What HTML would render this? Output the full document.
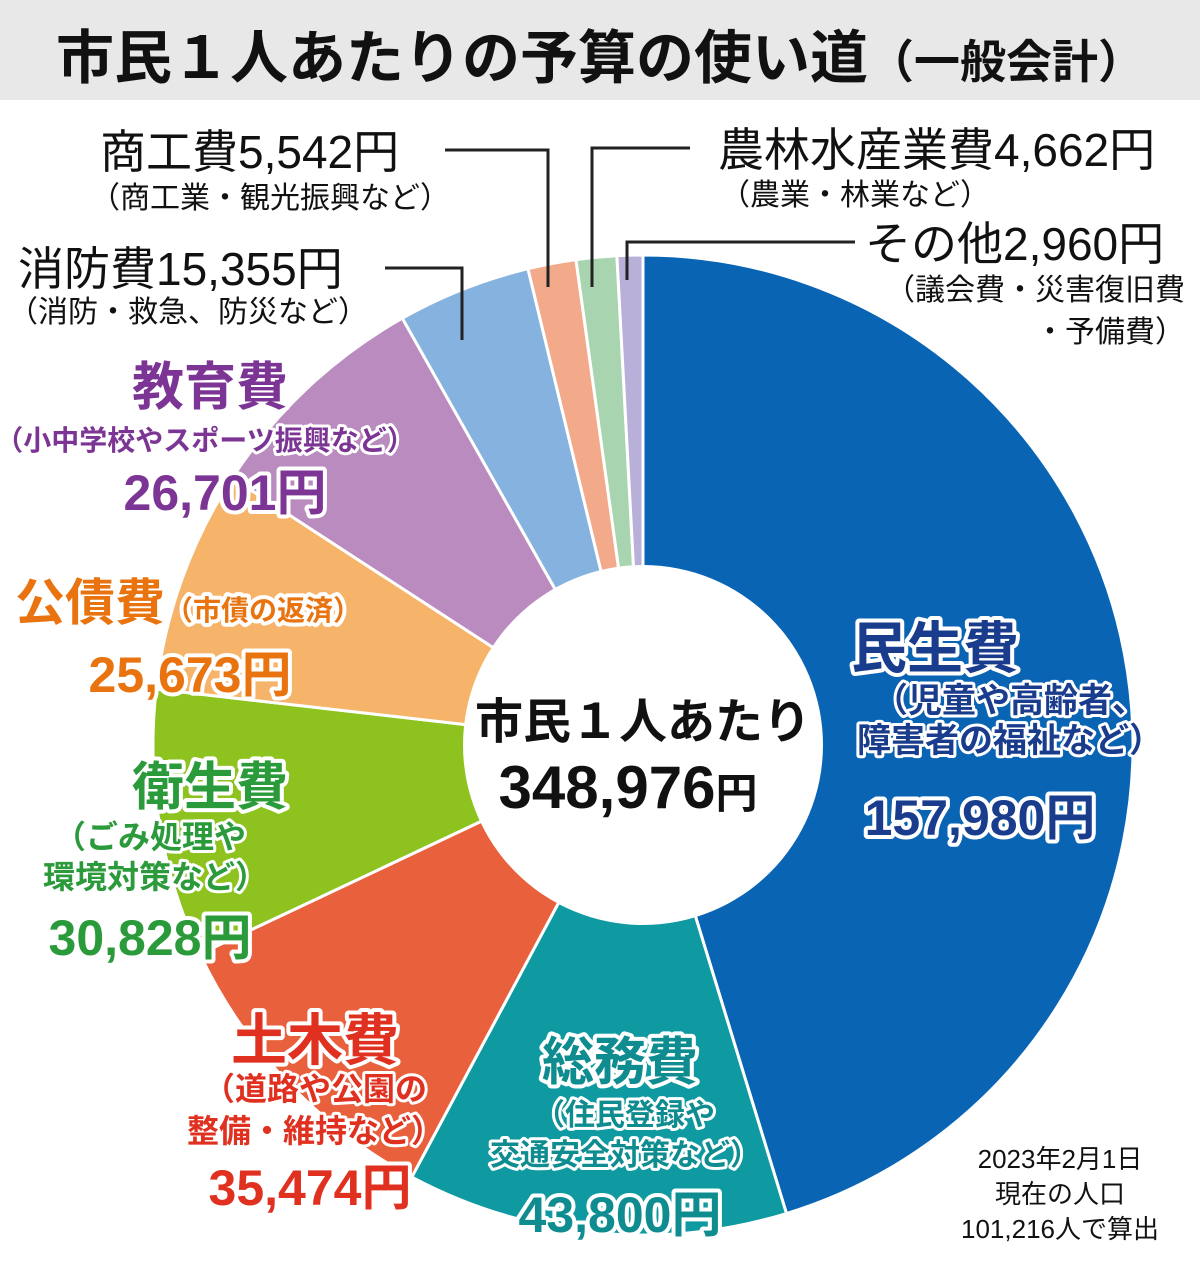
<!DOCTYPE html>
<html><head><meta charset="utf-8">
<style>
html,body{margin:0;padding:0;background:#fff;}
svg text{font-family:"Liberation Sans","Noto Sans CJK JP",sans-serif;}
.o{paint-order:stroke;stroke:#fff;stroke-linejoin:round;}
</style></head>
<body>
<svg id="s" width="1200" height="1264" viewBox="0 0 1200 1264" xmlns="http://www.w3.org/2000/svg">
<rect x="0" y="0" width="1200" height="100" fill="#e8e8e8"/>
<text x="600" y="78" font-size="58" font-weight="bold" text-anchor="middle" fill="#111">市民１人あたりの予算の使い道<tspan font-size="46">（一般会計）</tspan></text>
<g id="pie"></g>
<circle cx="643" cy="745" r="180" fill="#fff"/>
<text x="643" y="738" font-size="48" font-weight="bold" text-anchor="middle" fill="#111">市民１人あたり</text>
<text x="628" y="808" font-size="60" font-weight="bold" text-anchor="middle" fill="#111">348,976<tspan font-size="42">円</tspan></text>

<g fill="none" stroke="#222" stroke-width="3">
<polyline points="445,150 548,150 548,287"/>
<polyline points="690,148 592,148 592,287"/>
<polyline points="855,242 627,242 627,280"/>
<polyline points="385,268 462,268 462,340"/>
</g>
<g fill="#111">
<text x="100" y="168" font-size="46">商工費5,542円</text>
<text x="90" y="208" font-size="30">（商工業・観光振興など）</text>
<text x="718" y="166" font-size="46">農林水産業費4,662円</text>
<text x="720" y="205" font-size="30">（農業・林業など）</text>
<text x="865" y="260" font-size="46">その他2,960円</text>
<text x="1185" y="300" font-size="30" text-anchor="end">（議会費・災害復旧費</text>
<text x="1185" y="342" font-size="30" text-anchor="end">・予備費）</text>
<text x="18" y="285" font-size="46">消防費15,355円</text>
<text x="8" y="322" font-size="30">（消防・救急、防災など）</text>
</g>

<g font-weight="bold">
<text class="o" stroke-width="8" x="210" y="405" font-size="52" fill="#7c3594" text-anchor="middle">教育費</text>
<text class="o" stroke-width="6" x="205" y="450" font-size="28" fill="#7c3594" text-anchor="middle">（小中学校やスポーツ振興など）</text>
<text class="o" stroke-width="8" x="225" y="510" font-size="50" fill="#7c3594" text-anchor="middle">26,701円</text>

<text class="o" stroke-width="8" x="15" y="620" font-size="50" fill="#e8730f">公債費<tspan font-size="28">（市債の返済）</tspan></text>
<text class="o" stroke-width="8" x="190" y="692" font-size="50" fill="#e8730f" text-anchor="middle">25,673円</text>

<text class="o" stroke-width="8" x="210" y="805" font-size="52" fill="#2a9a3a" text-anchor="middle">衛生費</text>
<text class="o" stroke-width="6" x="150" y="848" font-size="32" fill="#2a9a3a" text-anchor="middle">（ごみ処理や</text>
<text class="o" stroke-width="6" x="155" y="888" font-size="32" fill="#2a9a3a" text-anchor="middle">環境対策など）</text>
<text class="o" stroke-width="8" x="150" y="955" font-size="50" fill="#2a9a3a" text-anchor="middle">30,828円</text>

<text class="o" stroke-width="8" x="315" y="1060" font-size="56" fill="#e03020" text-anchor="middle">土木費</text>
<text class="o" stroke-width="6" x="315" y="1100" font-size="32" fill="#e03020" text-anchor="middle">（道路や公園の</text>
<text class="o" stroke-width="6" x="315" y="1142" font-size="32" fill="#e03020" text-anchor="middle">整備・維持など）</text>
<text class="o" stroke-width="8" x="310" y="1205" font-size="50" fill="#e03020" text-anchor="middle">35,474円</text>

<text class="o" stroke-width="8" x="620" y="1080" font-size="52" fill="#0e8c90" text-anchor="middle">総務費</text>
<text class="o" stroke-width="6" x="625" y="1125" font-size="30" fill="#0e8c90" text-anchor="middle">（住民登録や</text>
<text class="o" stroke-width="6" x="625" y="1165" font-size="30" fill="#0e8c90" text-anchor="middle">交通安全対策など）</text>
<text class="o" stroke-width="8" x="620" y="1232" font-size="50" fill="#0e8c90" text-anchor="middle">43,800円</text>

<text class="o" stroke-width="8" x="935" y="668" font-size="56" fill="#1a3c8c" text-anchor="middle">民生費</text>
<text class="o" stroke-width="6" x="1010" y="712" font-size="34" fill="#1a3c8c" text-anchor="middle">（児童や高齢者、</text>
<text class="o" stroke-width="6" x="1010" y="752" font-size="34" fill="#1a3c8c" text-anchor="middle">障害者の福祉など）</text>
<text class="o" stroke-width="8" x="980" y="835" font-size="50" fill="#1a3c8c" text-anchor="middle">157,980円</text>
</g>
<g fill="#111" font-size="26" text-anchor="middle">
<text x="1060" y="1168">2023年2月1日</text>
<text x="1060" y="1203">現在の人口</text>
<text x="1060" y="1238">101,216人で算出</text>
</g>
</svg>
<script>
var v=[157980,43800,35474,30828,25673,26701,15355,5542,4662,2960];
var c=["#0a64b4","#0e9aa0","#e8603c","#8dc21f","#f5b46a","#b98bbf","#86b2df","#f2aa8a","#a8d5b0","#b8b0d8"];
var t=v.reduce(function(a,b){return a+b},0),a=-Math.PI/2,cx=643,cy=745,r=490,g=document.getElementById("pie"),h="";
v.forEach(function(x,i){var b=a+x/t*2*Math.PI;var x1=cx+r*Math.cos(a),y1=cy+r*Math.sin(a),x2=cx+r*Math.cos(b),y2=cy+r*Math.sin(b);
h+='<path d="M'+cx+','+cy+'L'+x1+','+y1+'A'+r+','+r+' 0 '+((b-a)>Math.PI?1:0)+' 1 '+x2+','+y2+'Z" fill="'+c[i]+'" stroke="#fff" stroke-width="3"/>';a=b;});
g.innerHTML=h;
</script>
</body></html>
